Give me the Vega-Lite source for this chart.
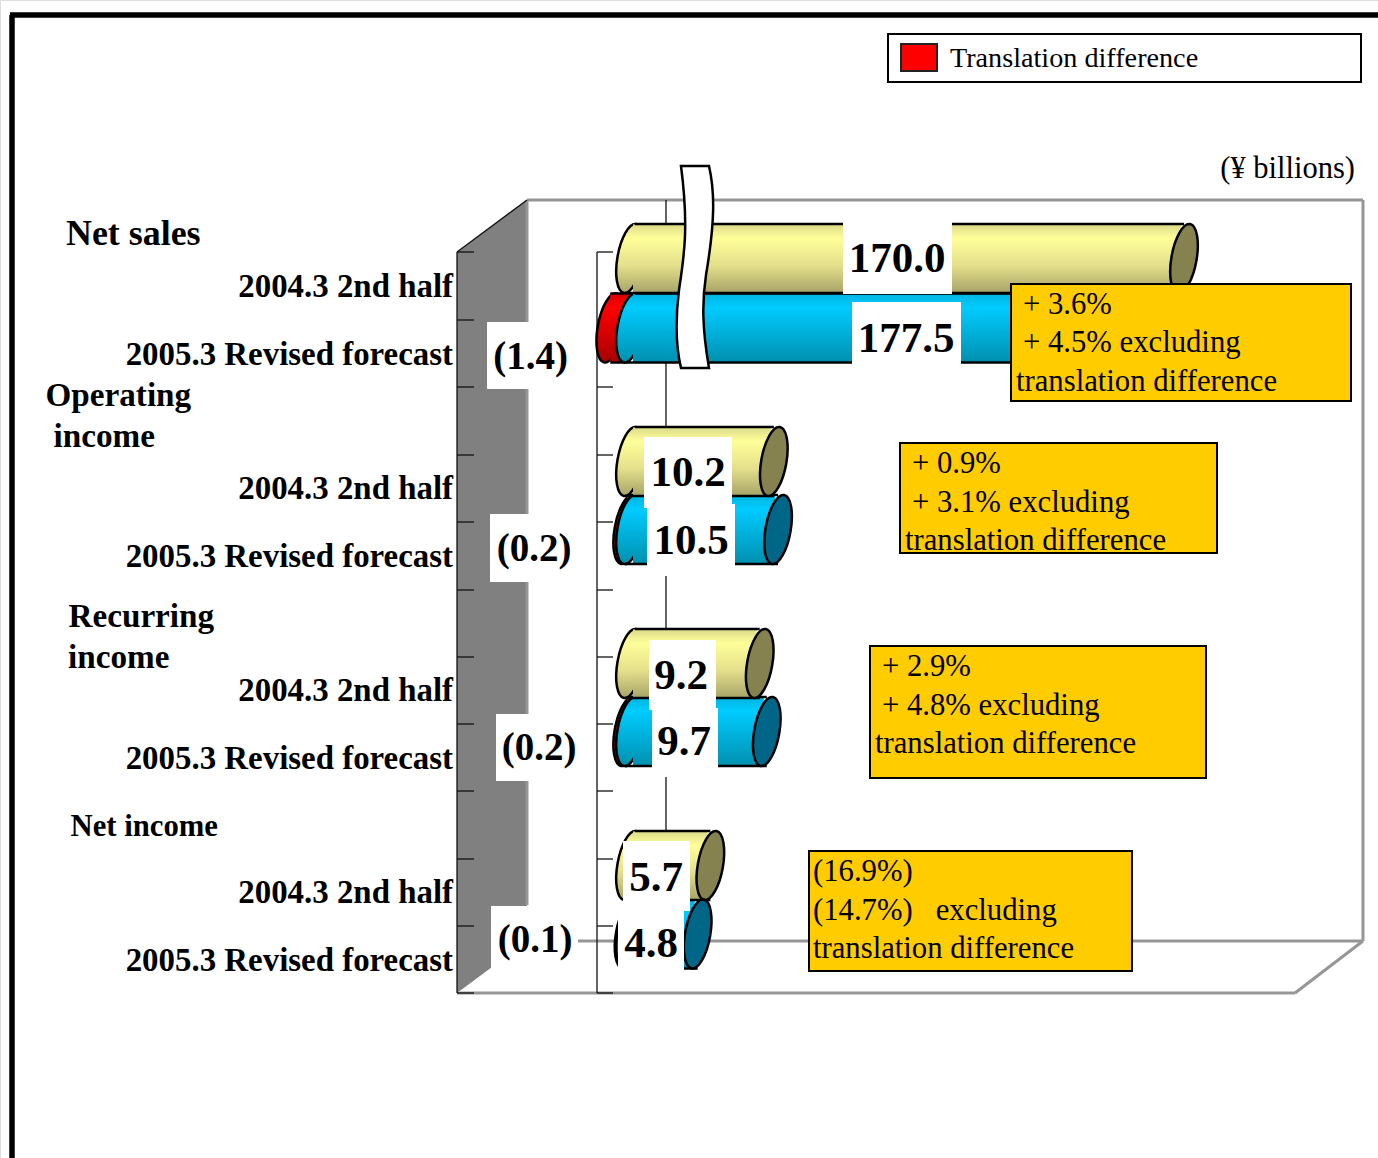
{
"$schema":"https://vega.github.io/schema/vega-lite/v6.json",
"width":1378,"height":1158,"padding":0,"autosize":{"type":"none"},
"background":"white",
"datasets":{
"bars":[
{"group":"Net sales","period":"2004.3 2nd half","slot":0,"start":0,"value":170.0},
{"group":"Net sales","period":"2005.3 Revised forecast","slot":1,"start":0,"value":177.5},
{"group":"Operating income","period":"2004.3 2nd half","slot":3,"start":0,"value":10.2},
{"group":"Operating income","period":"2005.3 Revised forecast","slot":4,"start":0,"value":10.5},
{"group":"Recurring income","period":"2004.3 2nd half","slot":6,"start":0,"value":9.2},
{"group":"Recurring income","period":"2005.3 Revised forecast","slot":7,"start":0,"value":9.7},
{"group":"Net income","period":"2004.3 2nd half","slot":9,"start":0,"value":5.7},
{"group":"Net income","period":"2005.3 Revised forecast","slot":10,"start":0,"value":4.8}
],
"translation":[
{"group":"Net sales","slot":1,"start":0,"value":-1.4},
{"group":"Operating income","slot":4,"start":0,"value":-0.2},
{"group":"Recurring income","slot":7,"start":0,"value":-0.2},
{"group":"Net income","slot":10,"start":0,"value":-0.1}
]
},
"resolve":{"scale":{"x":"independent","y":"independent"}},
"layer":[
{"encoding":{
"x":{"field":"x","type":"quantitative","axis":null,"scale":{"domain":[0,1378],"range":[0,1378],"nice":false,"zero":false}},
"y":{"field":"y","type":"quantitative","axis":null,"scale":{"domain":[0,1158],"range":[0,1158],"nice":false,"zero":false}}},
"layer":[
{"data":{"values":[{"x":10,"y":15,"x2":1378,"y2":15},{"x":12,"y":15,"x2":12,"y2":1158}]},
"mark":{"type":"rule","stroke":"black","strokeWidth":5.5},
"encoding":{"x2":{"field":"x2"},"y2":{"field":"y2"}}},
{"data":{"values":[{"x":457,"y":252,"y2":993},{"x":527,"y":200,"y2":941}]},
"mark":{"type":"area","fill":"#808080","orient":"vertical"},
"encoding":{"y2":{"field":"y2"}}},
{"data":{"values":[
{"x":527,"y":200,"x2":1363,"y2":200},{"x":1363,"y":200,"x2":1363,"y2":941},{"x":527,"y":200,"x2":527,"y2":905},
{"x":578,"y":941,"x2":1363,"y2":941},{"x":457,"y":993,"x2":1295,"y2":993},{"x":1295,"y":993,"x2":1363,"y2":941}]},
"mark":{"type":"rule","stroke":"#969696","strokeWidth":3},
"encoding":{"x2":{"field":"x2"},"y2":{"field":"y2"}}},
{"data":{"values":[
{"x":666,"y":200,"x2":666,"y2":941},{"x":457,"y":252,"x2":527,"y2":200},{"x":457,"y":252,"x2":457,"y2":993},{"x":597,"y":252,"x2":597,"y2":993},
{"x":457,"y":252,"x2":474,"y2":252},{"x":457,"y":320,"x2":474,"y2":320},{"x":457,"y":387,"x2":474,"y2":387},{"x":457,"y":455,"x2":474,"y2":455},{"x":457,"y":522,"x2":474,"y2":522},{"x":457,"y":590,"x2":474,"y2":590},{"x":457,"y":657,"x2":474,"y2":657},{"x":457,"y":724,"x2":474,"y2":724},{"x":457,"y":791,"x2":474,"y2":791},{"x":457,"y":859,"x2":474,"y2":859},{"x":457,"y":926,"x2":474,"y2":926},{"x":457,"y":993,"x2":474,"y2":993},
{"x":597,"y":252,"x2":613,"y2":252},{"x":597,"y":320,"x2":613,"y2":320},{"x":597,"y":387,"x2":613,"y2":387},{"x":597,"y":455,"x2":613,"y2":455},{"x":597,"y":522,"x2":613,"y2":522},{"x":597,"y":590,"x2":613,"y2":590},{"x":597,"y":657,"x2":613,"y2":657},{"x":597,"y":724,"x2":613,"y2":724},{"x":597,"y":791,"x2":613,"y2":791},{"x":597,"y":859,"x2":613,"y2":859},{"x":597,"y":926,"x2":613,"y2":926},{"x":597,"y":993,"x2":613,"y2":993}]},
"mark":{"type":"rule","stroke":"#111111","strokeWidth":1.3},
"encoding":{"x2":{"field":"x2"},"y2":{"field":"y2"}}}
]},
{"encoding":{
"x":{"field":"value","type":"quantitative","axis":null,"scale":{"domain":[-44.68,0,12,170,180],"range":[0,630,799.2,1184,1325],"nice":false,"zero":false,"padding":0}},
"y":{"field":"slot","type":"quantitative","axis":null,"scale":{"domain":[0,1,3,4,6,7,9,10],"range":[258.5,328,461.5,529.5,663.5,731.5,865.5,934],"nice":false,"zero":false,"padding":0}}},
"layer":[
{"data":{"name":"translation"},"mark":{"type":"point","filled":true,"opacity":1,"shape":"M0.174,-0.985A0.36,1,10,1,1,-0.174,0.985A0.36,1,10,1,1,0.174,-0.985Z","size":4900,"fill":{"gradient":"linear","x1":0,"y1":0,"x2":0,"y2":1,"stops":[{"offset":0,"color":"#D80000"},{"offset":0.2,"color":"#FF0000"},{"offset":1,"color":"#A80000"}]},"stroke":"black","strokeWidth":2.5}},
{"data":{"name":"translation"},"mark":{"type":"bar","orient":"horizontal","size":68,"fill":{"gradient":"linear","x1":0,"y1":0,"x2":0,"y2":1,"stops":[{"offset":0,"color":"#D80000"},{"offset":0.2,"color":"#FF0000"},{"offset":1,"color":"#A80000"}]}},
"encoding":{"x":{"field":"start","type":"quantitative"},"x2":{"field":"value"}}},
{"data":{"name":"translation"},"mark":{"type":"rule","stroke":"black","strokeWidth":2.5,"yOffset":-34.5,"xOffset":5},
"encoding":{"x":{"field":"start","type":"quantitative"},"x2":{"field":"value"}}},
{"data":{"name":"translation"},"mark":{"type":"rule","stroke":"black","strokeWidth":2.5,"yOffset":34.5,"xOffset":-5},
"encoding":{"x":{"field":"start","type":"quantitative"},"x2":{"field":"value"}}},
{"data":{"name":"bars"},"transform":[{"filter":"datum.slot % 3 == 1"}],"mark":{"type":"point","filled":true,"opacity":1,"shape":"M0.174,-0.985A0.36,1,10,1,1,-0.174,0.985A0.36,1,10,1,1,0.174,-0.985Z","size":4900,"fill":{"gradient":"linear","x1":0,"y1":0,"x2":0,"y2":1,"stops":[{"offset":0,"color":"#00B4E0"},{"offset":0.2,"color":"#00CCFF"},{"offset":1,"color":"#0090B0"}]},"stroke":"black","strokeWidth":2.5},
"encoding":{"x":{"field":"start","type":"quantitative"}}},
{"data":{"name":"bars"},"transform":[{"filter":"datum.slot % 3 == 1"}],"mark":{"type":"bar","orient":"horizontal","size":68,"xOffset":3,"x2Offset":-3,"fill":{"gradient":"linear","x1":0,"y1":0,"x2":0,"y2":1,"stops":[{"offset":0,"color":"#00B4E0"},{"offset":0.2,"color":"#00CCFF"},{"offset":1,"color":"#0090B0"}]}},
"encoding":{"x":{"field":"start","type":"quantitative"},"x2":{"field":"value"}}},
{"data":{"name":"bars"},"transform":[{"filter":"datum.slot % 3 == 1"}],"mark":{"type":"rule","stroke":"black","strokeWidth":2.5,"yOffset":-34.5,"xOffset":5},
"encoding":{"x":{"field":"start","type":"quantitative"},"x2":{"field":"value"}}},
{"data":{"name":"bars"},"transform":[{"filter":"datum.slot % 3 == 1"}],"mark":{"type":"rule","stroke":"black","strokeWidth":2.5,"yOffset":34.5,"xOffset":-5},
"encoding":{"x":{"field":"start","type":"quantitative"},"x2":{"field":"value"}}},
{"data":{"name":"bars"},"transform":[{"filter":"datum.slot % 3 == 0"}],"mark":{"type":"point","filled":true,"opacity":1,"shape":"M0.174,-0.985A0.36,1,10,1,1,-0.174,0.985A0.36,1,10,1,1,0.174,-0.985Z","size":4900,"fill":{"gradient":"linear","x1":0,"y1":0,"x2":0,"y2":1,"stops":[{"offset":0,"color":"#DCDA8A"},{"offset":0.2,"color":"#FFFF99"},{"offset":0.6,"color":"#E4E08C"},{"offset":1,"color":"#A8A468"}]},"stroke":"black","strokeWidth":2.5},
"encoding":{"x":{"field":"start","type":"quantitative"}}},
{"data":{"name":"bars"},"transform":[{"filter":"datum.slot % 3 == 0"}],"mark":{"type":"bar","orient":"horizontal","size":68,"xOffset":3,"x2Offset":-3,"fill":{"gradient":"linear","x1":0,"y1":0,"x2":0,"y2":1,"stops":[{"offset":0,"color":"#DCDA8A"},{"offset":0.2,"color":"#FFFF99"},{"offset":0.6,"color":"#E4E08C"},{"offset":1,"color":"#A8A468"}]}},
"encoding":{"x":{"field":"start","type":"quantitative"},"x2":{"field":"value"}}},
{"data":{"name":"bars"},"transform":[{"filter":"datum.slot % 3 == 0"}],"mark":{"type":"rule","stroke":"black","strokeWidth":2.5,"yOffset":-34.5,"xOffset":5},
"encoding":{"x":{"field":"start","type":"quantitative"},"x2":{"field":"value"}}},
{"data":{"name":"bars"},"transform":[{"filter":"datum.slot % 3 == 0"}],"mark":{"type":"rule","stroke":"black","strokeWidth":2.5,"yOffset":34.5,"xOffset":-5},
"encoding":{"x":{"field":"start","type":"quantitative"},"x2":{"field":"value"}}},
{"data":{"name":"bars"},"transform":[{"filter":"datum.slot % 3 == 0"}],"mark":{"type":"point","filled":true,"opacity":1,"shape":"M0.174,-0.985A0.36,1,10,1,1,-0.174,0.985A0.36,1,10,1,1,0.174,-0.985Z","size":4900,"fill":"#858250","stroke":"black","strokeWidth":2.5}},
{"data":{"name":"bars"},"transform":[{"filter":"datum.slot % 3 == 1"}],"mark":{"type":"point","filled":true,"opacity":1,"shape":"M0.174,-0.985A0.36,1,10,1,1,-0.174,0.985A0.36,1,10,1,1,0.174,-0.985Z","size":4900,"fill":"#006688","stroke":"black","strokeWidth":2.5}}
]},
{"encoding":{
"x":{"field":"x","type":"quantitative","axis":null,"scale":{"domain":[0,1378],"range":[0,1378],"nice":false,"zero":false,"padding":0}},
"y":{"field":"y","type":"quantitative","axis":null,"scale":{"domain":[0,1158],"range":[0,1158],"nice":false,"zero":false,"padding":0}}},
"layer":[
{"data":{"values":[
{"x":843,"x2":952,"y":222,"y2":294},{"x":852,"x2":961,"y":302,"y2":372},
{"x":644,"x2":732,"y":437,"y2":508},{"x":647,"x2":735,"y":504,"y2":576},
{"x":649,"x2":716,"y":640,"y2":710},{"x":652,"x2":718,"y":708,"y2":777},
{"x":623,"x2":690,"y":841,"y2":911},{"x":618,"x2":684,"y":903,"y2":975},
{"x":487,"x2":575,"y":322,"y2":389},{"x":490,"x2":578,"y":514,"y2":582},
{"x":496,"x2":583,"y":714,"y2":781},{"x":491,"x2":578,"y":906,"y2":972}]},
"mark":{"type":"rect","fill":"white"},
"encoding":{"x2":{"field":"x2"},"y2":{"field":"y2"}}},
{"data":{"values":[{"x":695,"y":267}]},
"mark":{"type":"point","filled":true,"opacity":1,"size":40000,"fill":"white","stroke":"black","strokeWidth":2.5,
"shape":"M-0.14,-1.01L0.14,-1.01C0.2,-0.75,0.2,-0.45,0.11,0.08C0.07,0.35,0.07,0.6,0.14,1.01L-0.14,1.01C-0.19,0.8,-0.2,0.55,-0.16,0.23C-0.11,-0.1,-0.06,-0.4,-0.14,-1.01Z"}},
{"data":{"values":[
{"x":1011,"x2":1351,"y":284,"y2":401},{"x":900,"x2":1217,"y":443,"y2":553},{"x":870,"x2":1206,"y":646,"y2":778},{"x":809,"x2":1132,"y":851,"y2":971}]},
"mark":{"type":"rect","fill":"#FFCC00","stroke":"black","strokeWidth":2},
"encoding":{"x2":{"field":"x2"},"y2":{"field":"y2"}}},
{"data":{"values":[{"x":888,"x2":1361,"y":34,"y2":82}]},
"mark":{"type":"rect","fill":"white","stroke":"black","strokeWidth":2},
"encoding":{"x2":{"field":"x2"},"y2":{"field":"y2"}}},
{"data":{"values":[{"x":901,"x2":937,"y":44,"y2":71}]},
"mark":{"type":"rect","fill":"#FF0000","stroke":"#222222","strokeWidth":2},
"encoding":{"x2":{"field":"x2"},"y2":{"field":"y2"}}},
{"data":{"values":[{"x":950,"y":59,"t":"Translation difference"}]},
"mark":{"type":"text","font":"Liberation Serif","fontSize":28.2,"align":"left","baseline":"middle","fill":"black"},
"encoding":{"text":{"field":"t"}}},
{"data":{"values":[{"x":1355,"y":169,"t":"(¥ billions)"}]},
"mark":{"type":"text","font":"Liberation Serif","fontSize":30.5,"align":"right","baseline":"middle","fill":"black"},
"encoding":{"text":{"field":"t"}}},
{"data":{"values":[
{"x":1023,"y":305,"t":"+ 3.6%"},{"x":1023,"y":343,"t":"+ 4.5% excluding"},{"x":1016,"y":382,"t":"translation difference"},
{"x":912,"y":464,"t":"+ 0.9%"},{"x":912,"y":503,"t":"+ 3.1% excluding"},{"x":905,"y":541,"t":"translation difference"},
{"x":882,"y":667,"t":"+ 2.9%"},{"x":882,"y":706,"t":"+ 4.8% excluding"},{"x":875,"y":744,"t":"translation difference"},
{"x":813,"y":872,"t":"(16.9%)"},{"x":813,"y":911,"t":"(14.7%)\u00a0\u00a0\u00a0excluding"},{"x":813,"y":949,"t":"translation difference"}]},
"mark":{"type":"text","font":"Liberation Serif","fontSize":30.7,"align":"left","baseline":"middle","fill":"black"},
"encoding":{"text":{"field":"t"}}},
{"data":{"values":[
{"x":897,"y":259,"t":"170.0"},{"x":906,"y":339,"t":"177.5"},{"x":688,"y":473,"t":"10.2"},{"x":691,"y":541,"t":"10.5"},
{"x":681,"y":676,"t":"9.2"},{"x":684,"y":742,"t":"9.7"},{"x":656,"y":878,"t":"5.7"},{"x":651,"y":944,"t":"4.8"}]},
"mark":{"type":"text","font":"Liberation Serif","fontSize":43,"fontWeight":"bold","align":"center","baseline":"middle","fill":"black"},
"encoding":{"text":{"field":"t"}}},
{"data":{"values":[
{"x":530.5,"y":357,"t":"(1.4)"},{"x":534,"y":549,"t":"(0.2)"},{"x":539,"y":748,"t":"(0.2)"},{"x":535,"y":940,"t":"(0.1)"}]},
"mark":{"type":"text","font":"Liberation Serif","fontSize":39,"fontWeight":"bold","align":"center","baseline":"middle","fill":"black"},
"encoding":{"text":{"field":"t"}}},
{"data":{"values":[
{"x":453,"y":287,"t":"2004.3 2nd half"},{"x":453,"y":354.5,"t":"2005.3 Revised forecast"},
{"x":453,"y":489,"t":"2004.3 2nd half"},{"x":453,"y":556.5,"t":"2005.3 Revised forecast"},
{"x":453,"y":691,"t":"2004.3 2nd half"},{"x":453,"y":758.5,"t":"2005.3 Revised forecast"},
{"x":453,"y":893,"t":"2004.3 2nd half"},{"x":453,"y":960.5,"t":"2005.3 Revised forecast"}]},
"mark":{"type":"text","font":"Liberation Serif","fontSize":32.9,"fontWeight":"bold","align":"right","baseline":"middle","fill":"black"},
"encoding":{"text":{"field":"t"}}},
{"data":{"values":[
{"x":66,"y":234,"t":"Net sales","s":35.9},{"x":45.5,"y":396,"t":"Operating","s":33.2},{"x":53.5,"y":437,"t":"income","s":33.2},
{"x":68.5,"y":617,"t":"Recurring","s":33.2},{"x":68,"y":658,"t":"income","s":33.2},{"x":70.5,"y":827,"t":"Net income","s":30.7}]},
"mark":{"type":"text","font":"Liberation Serif","fontWeight":"bold","align":"left","baseline":"middle","fill":"black"},
"encoding":{"text":{"field":"t"},"size":{"field":"s","type":"quantitative","scale":null}}}
]}
]
}
